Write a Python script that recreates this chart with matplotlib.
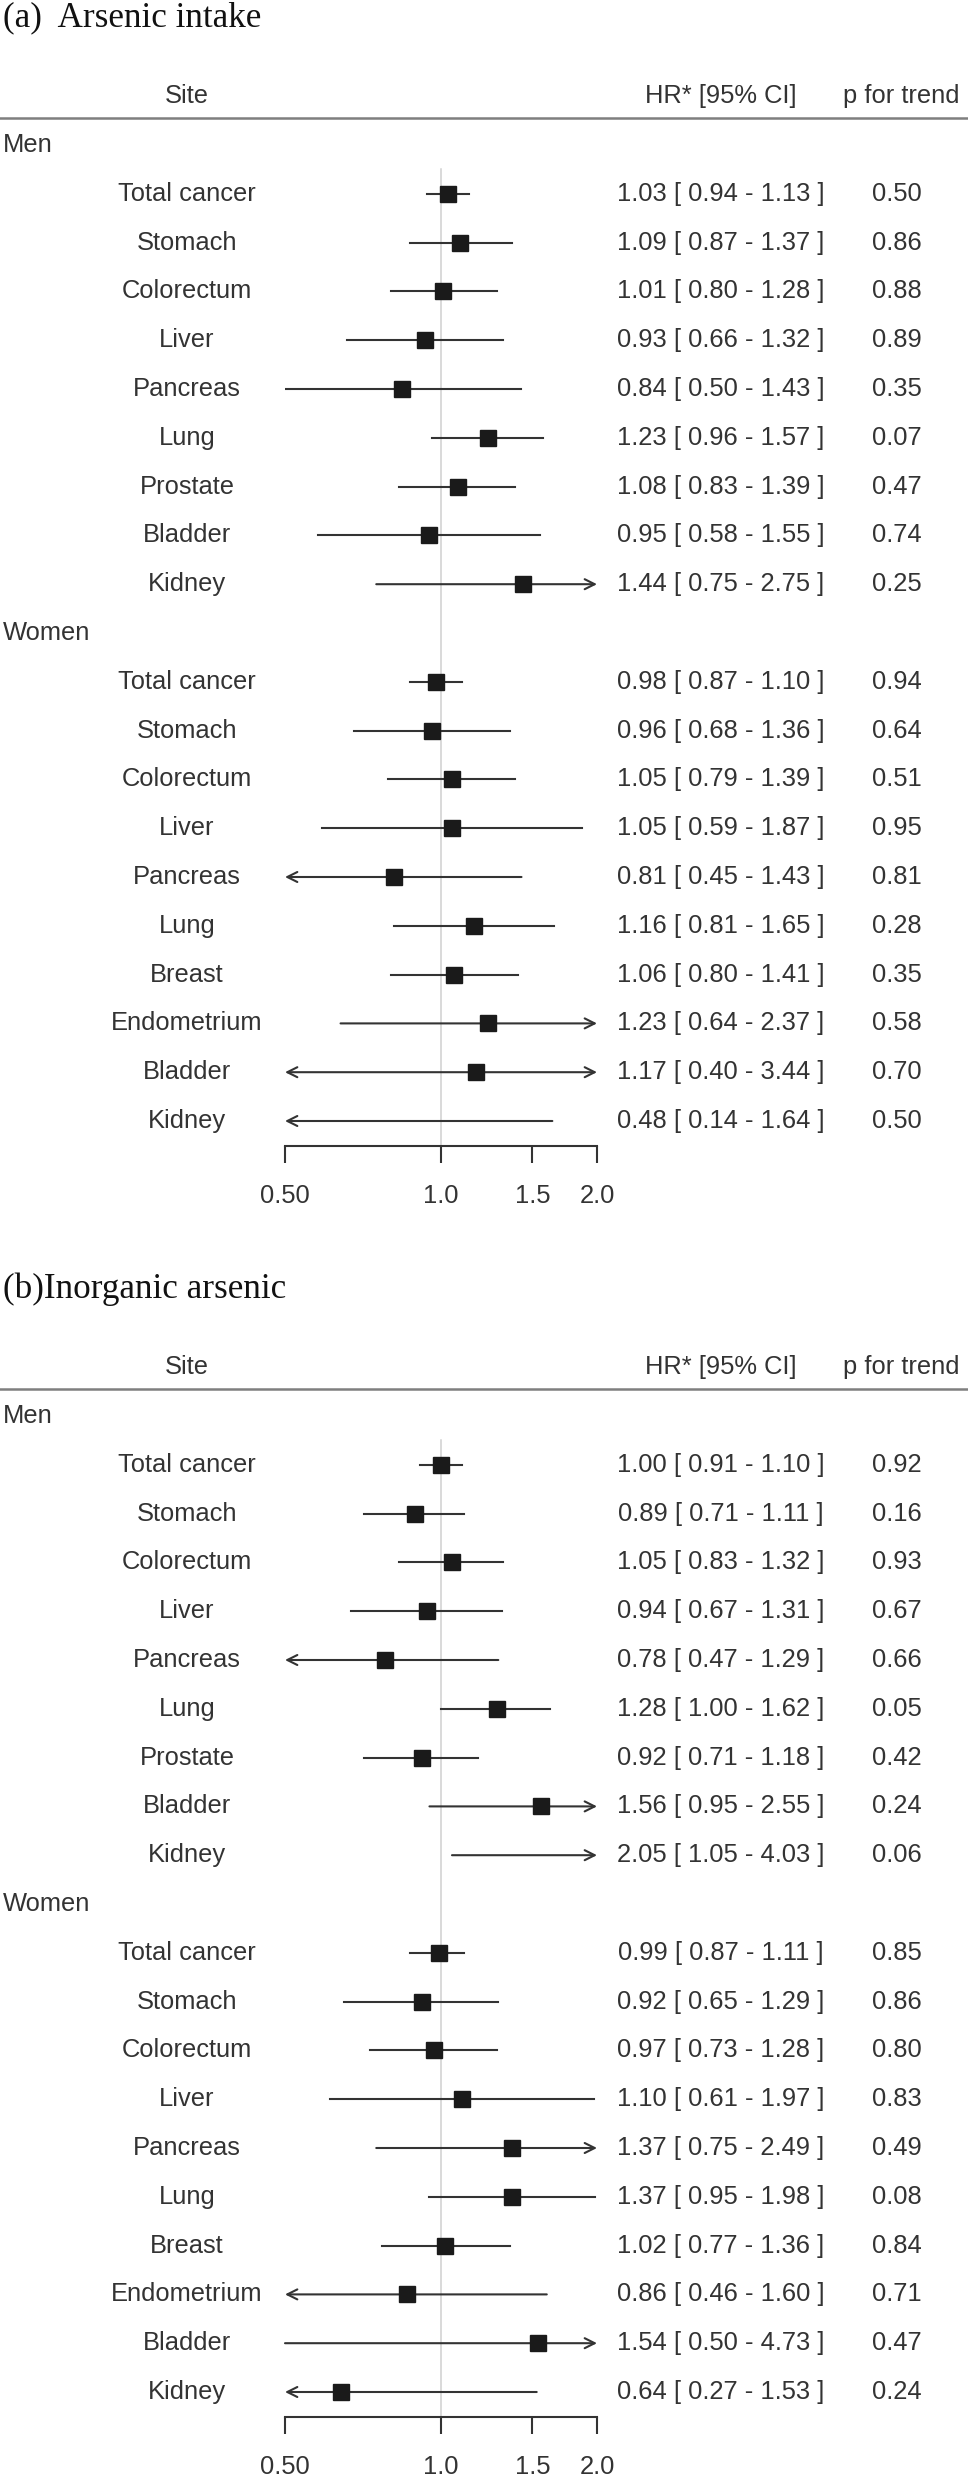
import matplotlib.pyplot as plt

# ---- data -------------------------------------------------------------
sites_men = ['Total cancer', 'Stomach', 'Colorectum', 'Liver', 'Pancreas',
             'Lung', 'Prostate', 'Bladder', 'Kidney']
sites_women = ['Total cancer', 'Stomach', 'Colorectum', 'Liver', 'Pancreas',
               'Lung', 'Breast', 'Endometrium', 'Bladder', 'Kidney']

# (a) Arsenic intake
a_men_hr = [1.03, 1.09, 1.01, 0.93, 0.84, 1.23, 1.08, 0.95, 1.44]
a_men_lo = [0.94, 0.87, 0.80, 0.66, 0.50, 0.96, 0.83, 0.58, 0.75]
a_men_hi = [1.13, 1.37, 1.28, 1.32, 1.43, 1.57, 1.39, 1.55, 2.75]
a_men_p = ['0.50', '0.86', '0.88', '0.89', '0.35', '0.07', '0.47', '0.74', '0.25']
a_wom_hr = [0.98, 0.96, 1.05, 1.05, 0.81, 1.16, 1.06, 1.23, 1.17, 0.48]
a_wom_lo = [0.87, 0.68, 0.79, 0.59, 0.45, 0.81, 0.80, 0.64, 0.40, 0.14]
a_wom_hi = [1.10, 1.36, 1.39, 1.87, 1.43, 1.65, 1.41, 2.37, 3.44, 1.64]
a_wom_p = ['0.94', '0.64', '0.51', '0.95', '0.81', '0.28', '0.35', '0.58', '0.70', '0.50']

# (b) Inorganic arsenic
b_men_hr = [1.00, 0.89, 1.05, 0.94, 0.78, 1.28, 0.92, 1.56, 2.05]
b_men_lo = [0.91, 0.71, 0.83, 0.67, 0.47, 1.00, 0.71, 0.95, 1.05]
b_men_hi = [1.10, 1.11, 1.32, 1.31, 1.29, 1.62, 1.18, 2.55, 4.03]
b_men_p = ['0.92', '0.16', '0.93', '0.67', '0.66', '0.05', '0.42', '0.24', '0.06']
b_wom_hr = [0.99, 0.92, 0.97, 1.10, 1.37, 1.37, 1.02, 0.86, 1.54, 0.64]
b_wom_lo = [0.87, 0.65, 0.73, 0.61, 0.75, 0.95, 0.77, 0.46, 0.50, 0.27]
b_wom_hi = [1.11, 1.29, 1.28, 1.97, 2.49, 1.98, 1.36, 1.60, 4.73, 1.53]
b_wom_p = ['0.85', '0.86', '0.80', '0.83', '0.49', '0.08', '0.84', '0.71', '0.47', '0.24']

ticks = [0.5, 1.0, 1.5, 2.0]
tick_labels = ['0.50', '1.0', '1.5', '2.0']

# ---- layout (pixels) --------------------------------------------------
W, H = 968, 2481
ROW0, STEP = 145, 48.8
X_LO, X_HI = 285, 597
AXIS_Y, FTOP = 1146, 150
TXT = '#333333'
SANS = 'Liberation Sans'
FS = 18.4

fig = plt.figure(figsize=(W / 100, H / 100), dpi=100)
base = fig.add_axes([0, 0, 1, 1])
base.set_xlim(0, W)
base.set_ylim(H, 0)
base.axis('off')


def panel(off, title, men, women):
    base.text(3, 18 + off, title, family='Liberation Serif', fontsize=25.3,
              ha='left', va='center', color='#111111')
    base.text(187, 96 + off, 'Site', family=SANS, fontsize=FS, ha='center', va='center', color=TXT)
    base.text(721, 96 + off, 'HR* [95% CI]', family=SANS, fontsize=FS, ha='center', va='center', color=TXT)
    base.text(901, 96 + off, 'p for trend', family=SANS, fontsize=FS, ha='center', va='center', color=TXT)
    base.plot([0, W], [118 + off, 118 + off], color='#7f7f7f', lw=1.8)

    ax = fig.add_axes([X_LO / W, 1 - (AXIS_Y + off) / H, (X_HI - X_LO) / W, (AXIS_Y - FTOP) / H])
    ax.set_xscale('log')
    ax.set_xlim(0.5, 2.0)
    ax.set_ylim(AXIS_Y + off, FTOP + off)
    ax.patch.set_alpha(0)
    for s in ['top', 'left', 'right']:
        ax.spines[s].set_visible(False)
    ax.spines['bottom'].set_color('#333333')
    ax.spines['bottom'].set_linewidth(1.5)
    ax.set_yticks([])
    ax.set_xticks(ticks)
    ax.set_xticklabels(tick_labels, family=SANS, fontsize=FS, color=TXT)
    ax.minorticks_off()
    ax.tick_params(axis='x', direction='out', length=12.2, width=1.5, color='#333333', pad=15)

    ax.plot([1, 1], [ROW0 + 0.5 * STEP + off, AXIS_Y + off], color='#d0d0d0', lw=1.1,
            zorder=1, clip_on=False)

    row = 0
    for group, (sites, hr, lo, hi, p) in [('Men', men), ('Women', women)]:
        y = ROW0 + row * STEP + off
        base.text(3, y, group, family=SANS, fontsize=FS, ha='left', va='center', color=TXT)
        row += 1
        for i in range(len(sites)):
            y = ROW0 + row * STEP + off
            base.text(187, y, sites[i], family=SANS, fontsize=FS, ha='center', va='center', color=TXT)
            base.text(721, y, '%.2f [ %.2f - %.2f ]' % (hr[i], lo[i], hi[i]), family=SANS,
                      fontsize=FS, ha='center', va='center', color=TXT)
            base.text(897, y, p[i], family=SANS, fontsize=FS, ha='center', va='center', color=TXT)

            lc, hc = max(lo[i], 0.5), min(hi[i], 2.0)
            if lo[i] < 0.5 and hi[i] > 2.0:
                style, a, b = '<->', lc, hc
            elif lo[i] < 0.5:
                style, a, b = '->', hc, lc
            elif hi[i] > 2.0:
                style, a, b = '->', lc, hc
            else:
                style = None
            if style:
                ax.annotate('', xy=(b, y), xytext=(a, y), annotation_clip=False,
                            arrowprops=dict(arrowstyle=style + ',head_length=0.6,head_width=0.3',
                                            mutation_scale=12, lw=1.5, color='#333333',
                                            shrinkA=0, shrinkB=0))
            else:
                ax.plot([lc, hc], [y, y], color='#333333', lw=1.5, zorder=2)
            if 0.5 <= hr[i] <= 2.0:
                ax.plot(hr[i], y, marker='s', ms=11, color='#1a1a1a', zorder=3, clip_on=False)
            row += 1


panel(0, '(a)  Arsenic intake',
      (sites_men, a_men_hr, a_men_lo, a_men_hi, a_men_p),
      (sites_women, a_wom_hr, a_wom_lo, a_wom_hi, a_wom_p))
panel(1271, '(b)Inorganic arsenic',
      (sites_men, b_men_hr, b_men_lo, b_men_hi, b_men_p),
      (sites_women, b_wom_hr, b_wom_lo, b_wom_hi, b_wom_p))

fig.savefig('out.png', dpi=100)
